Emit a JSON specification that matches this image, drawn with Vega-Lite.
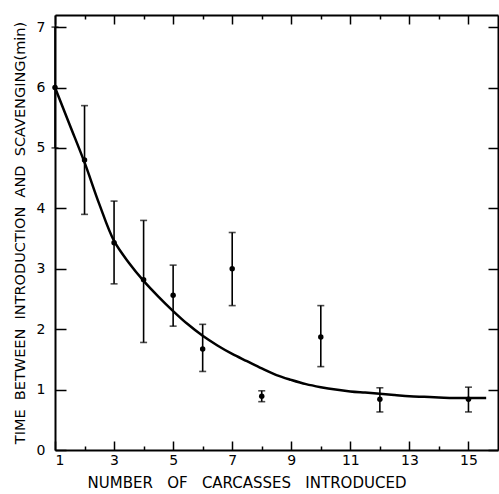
{
  "$schema": "https://vega.github.io/schema/vega-lite/v6.json",
  "autosize": "none",
  "width": 443,
  "height": 435,
  "padding": {"left": 55, "top": 15, "right": 1, "bottom": 44},
  "background": "white",
  "config": {
    "view": {"stroke": null},
    "font": "DejaVu Sans",
    "axis": {
      "domainColor": "black",
      "domainWidth": 2,
      "tickColor": "black",
      "tickWidth": 1.5,
      "labelColor": "black",
      "labelFont": "DejaVu Sans",
      "labelFontSize": 14,
      "titleColor": "black",
      "titleFont": "DejaVu Sans",
      "titleFontSize": 15,
      "titleFontWeight": "normal",
      "grid": false
    }
  },
  "datasets": {
    "means": [
      {"n": 1, "t": 6.0, "lo": 5.0, "hi": 7.0},
      {"n": 2, "t": 4.8, "lo": 3.9, "hi": 5.7},
      {"n": 3, "t": 3.43, "lo": 2.75, "hi": 4.12},
      {"n": 4, "t": 2.82, "lo": 1.78, "hi": 3.8},
      {"n": 5, "t": 2.56, "lo": 2.05, "hi": 3.06},
      {"n": 6, "t": 1.67, "lo": 1.3, "hi": 2.08},
      {"n": 7, "t": 3.0, "lo": 2.39, "hi": 3.6},
      {"n": 8, "t": 0.89, "lo": 0.8, "hi": 0.98},
      {"n": 10, "t": 1.87, "lo": 1.38, "hi": 2.39},
      {"n": 12, "t": 0.84, "lo": 0.63, "hi": 1.03},
      {"n": 15, "t": 0.84, "lo": 0.63, "hi": 1.04}
    ],
    "fit": [
      {"n": 1, "t": 6.0},
      {"n": 1.5, "t": 5.38},
      {"n": 2, "t": 4.76},
      {"n": 2.5, "t": 4.07},
      {"n": 3, "t": 3.46},
      {"n": 3.5, "t": 3.1},
      {"n": 4, "t": 2.8},
      {"n": 4.5, "t": 2.54},
      {"n": 5, "t": 2.3},
      {"n": 5.5, "t": 2.08},
      {"n": 6, "t": 1.89},
      {"n": 6.5, "t": 1.73},
      {"n": 7, "t": 1.59},
      {"n": 7.5, "t": 1.47},
      {"n": 8, "t": 1.35},
      {"n": 8.5, "t": 1.24},
      {"n": 9, "t": 1.16},
      {"n": 9.5, "t": 1.09},
      {"n": 10, "t": 1.04},
      {"n": 10.5, "t": 1.0},
      {"n": 11, "t": 0.97},
      {"n": 11.5, "t": 0.95},
      {"n": 12, "t": 0.93},
      {"n": 12.5, "t": 0.91},
      {"n": 13, "t": 0.89},
      {"n": 13.5, "t": 0.88},
      {"n": 14, "t": 0.87},
      {"n": 14.5, "t": 0.86},
      {"n": 15, "t": 0.86},
      {"n": 15.6, "t": 0.86}
    ]
  },
  "layer": [
    {
      "data": {"name": "fit"},
      "mark": {"type": "line", "color": "black", "strokeWidth": 2.5, "interpolate": "catmull-rom"},
      "encoding": {
        "x": {
          "field": "n", "type": "quantitative",
          "scale": {"domain": [1, 16], "nice": false, "zero": false},
          "axis": {
            "orient": "bottom",
            "title": "NUMBER\u00a0\u00a0\u00a0OF\u00a0\u00a0\u00a0CARCASSES\u00a0\u00a0\u00a0INTRODUCED",
            "titleAnchor": "start",
            "titleAlign": "left",
            "titleX": 32,
            "values": [1, 2, 3, 4, 5, 6, 7, 8, 9, 10, 11, 12, 13, 14, 15],
            "labelExpr": "datum.value % 2 == 1 ? datum.label : ''",
            "tickSize": {"condition": {"test": "datum.value % 2 == 1", "value": -9}, "value": -4},
            "labelPadding": 12,
            "titlePadding": 8
          }
        },
        "y": {
          "field": "t", "type": "quantitative",
          "scale": {"domain": [0, 7.2], "nice": false},
          "axis": {
            "orient": "left",
            "title": "TIME\u00a0\u00a0BETWEEN\u00a0\u00a0INTRODUCTION\u00a0\u00a0AND\u00a0\u00a0SCAVENGING(min)",
            "titleFontSize": 14.5,
            "values": [0, 1, 2, 3, 4, 5, 6, 7],
            "tickSize": -11,
            "labelPadding": 21,
            "titlePadding": 9
          }
        }
      }
    },
    {
      "data": {"name": "means"},
      "mark": {"type": "rule", "color": "black", "strokeWidth": 1.6},
      "encoding": {
        "x": {
          "field": "n", "type": "quantitative",
          "axis": {
            "orient": "top", "title": null, "labels": false,
            "values": [1, 2, 3, 4, 5, 6, 7, 8, 9, 10, 11, 12, 13, 14, 15],
            "tickSize": {"condition": {"test": "datum.value % 2 == 1", "value": -9}, "value": -4}
          }
        },
        "y": {
          "field": "lo", "type": "quantitative",
          "axis": {
            "orient": "right", "title": null, "labels": false,
            "values": [0, 1, 2, 3, 4, 5, 6, 7],
            "tickSize": -10
          }
        },
        "y2": {"field": "hi"}
      }
    },
    {
      "data": {"name": "means"},
      "mark": {"type": "tick", "orient": "horizontal", "color": "black", "size": 7, "thickness": 1.6},
      "encoding": {
        "x": {"field": "n", "type": "quantitative", "axis": null},
        "y": {"field": "lo", "type": "quantitative", "axis": null}
      }
    },
    {
      "data": {"name": "means"},
      "mark": {"type": "tick", "orient": "horizontal", "color": "black", "size": 7, "thickness": 1.6},
      "encoding": {
        "x": {"field": "n", "type": "quantitative", "axis": null},
        "y": {"field": "hi", "type": "quantitative", "axis": null}
      }
    },
    {
      "data": {"name": "means"},
      "mark": {"type": "point", "filled": true, "color": "black", "opacity": 1, "size": 30},
      "encoding": {
        "x": {"field": "n", "type": "quantitative", "axis": null},
        "y": {"field": "t", "type": "quantitative", "axis": null}
      }
    }
  ],
  "resolve": {"axis": {"x": "independent", "y": "independent"}}
}
